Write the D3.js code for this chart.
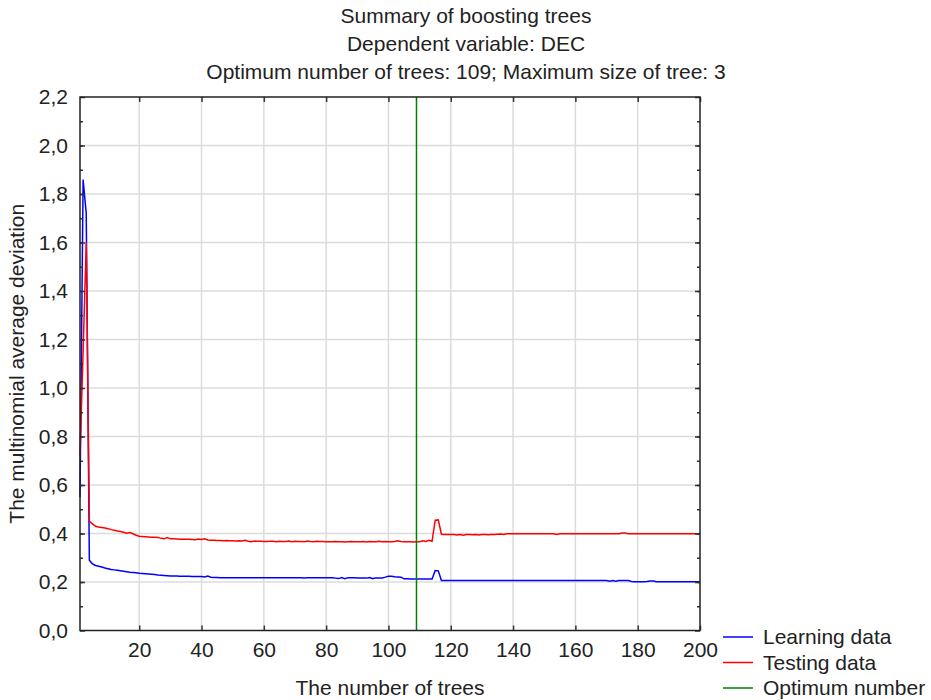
<!DOCTYPE html>
<meta charset="utf-8">
<style>
body { margin: 0; background: #fff; }
svg { font-family: "Liberation Sans", Arial, sans-serif; }
</style>
<svg width="931" height="700"></svg>
<script src="https://cdn.jsdelivr.net/npm/d3@7"></script>
<script>
// chart text
var titleLines = [
  "Summary of boosting trees",
  "Dependent variable: DEC",
  "Optimum number of trees: 109; Maximum size of tree: 3"
]
var xLabel = "The number of trees"
var yLabel = "The multinomial average deviation"
var xTicks = [20, 40, 60, 80, 100, 120, 140, 160, 180, 200]
var yTicks = [0, 0.2, 0.4, 0.6, 0.8, 1.0, 1.2, 1.4, 1.6, 1.8, 2.0, 2.2]
var optimumTrees = 109

// values per tree, 1..200
var learning = [
  0.55,1.86,1.72,0.29,0.275,0.268,0.265,0.262,0.258,0.255,
  0.252,0.25,0.248,0.246,0.244,0.242,0.24,0.239,0.238,0.236,
  0.235,0.234,0.233,0.232,0.231,0.229,0.228,0.227,0.226,0.225,
  0.225,0.225,0.224,0.224,0.224,0.224,0.223,0.223,0.223,0.223,
  0.221,0.225,0.22,0.219,0.219,0.218,0.218,0.218,0.218,0.218,
  0.218,0.218,0.218,0.218,0.218,0.218,0.218,0.218,0.218,0.218,
  0.218,0.218,0.218,0.218,0.218,0.218,0.218,0.218,0.218,0.218,
  0.218,0.218,0.217,0.218,0.218,0.218,0.218,0.218,0.218,0.218,
  0.218,0.218,0.216,0.214,0.218,0.214,0.218,0.218,0.218,0.217,
  0.216,0.216,0.216,0.218,0.214,0.217,0.217,0.217,0.22,0.224,
  0.224,0.222,0.221,0.22,0.213,0.213,0.212,0.212,0.212,0.212,
  0.212,0.212,0.212,0.212,0.247,0.246,0.206,0.206,0.206,0.206,
  0.206,0.206,0.206,0.206,0.206,0.206,0.206,0.206,0.206,0.206,
  0.206,0.206,0.206,0.206,0.206,0.206,0.206,0.206,0.206,0.206,
  0.206,0.206,0.206,0.206,0.206,0.206,0.206,0.206,0.206,0.206,
  0.206,0.206,0.206,0.206,0.206,0.206,0.206,0.206,0.206,0.206,
  0.206,0.206,0.206,0.206,0.206,0.206,0.206,0.206,0.206,0.206,
  0.203,0.206,0.203,0.206,0.206,0.206,0.206,0.202,0.201,0.201,
  0.201,0.201,0.202,0.204,0.204,0.201,0.201,0.201,0.201,0.201,
  0.201,0.201,0.201,0.201,0.201,0.201,0.201,0.201,0.201,0.201
]
var testing = [
  0.72,1.15,1.6,0.45,0.44,0.43,0.427,0.425,0.423,0.42,
  0.416,0.413,0.41,0.408,0.405,0.401,0.404,0.399,0.393,0.389,
  0.388,0.387,0.386,0.385,0.385,0.384,0.38,0.378,0.383,0.378,
  0.378,0.377,0.376,0.376,0.376,0.376,0.375,0.374,0.377,0.375,
  0.378,0.373,0.372,0.372,0.371,0.371,0.37,0.371,0.37,0.37,
  0.369,0.37,0.369,0.372,0.368,0.366,0.369,0.368,0.368,0.367,
  0.367,0.368,0.368,0.366,0.368,0.367,0.367,0.369,0.366,0.368,
  0.367,0.367,0.366,0.369,0.367,0.366,0.368,0.367,0.367,0.366,
  0.366,0.366,0.367,0.366,0.366,0.365,0.366,0.367,0.366,0.366,
  0.366,0.367,0.365,0.367,0.366,0.366,0.368,0.366,0.367,0.366,
  0.366,0.367,0.37,0.367,0.366,0.366,0.366,0.365,0.366,0.366,
  0.37,0.367,0.372,0.368,0.455,0.456,0.397,0.396,0.396,0.396,
  0.396,0.394,0.396,0.393,0.396,0.396,0.395,0.396,0.394,0.396,
  0.396,0.395,0.396,0.396,0.397,0.398,0.396,0.399,0.399,0.399,
  0.399,0.399,0.399,0.399,0.399,0.399,0.399,0.399,0.399,0.399,
  0.399,0.399,0.399,0.396,0.399,0.399,0.399,0.399,0.399,0.399,
  0.399,0.399,0.399,0.399,0.399,0.399,0.399,0.399,0.399,0.399,
  0.399,0.399,0.399,0.399,0.402,0.402,0.399,0.399,0.399,0.399,
  0.399,0.399,0.399,0.399,0.399,0.399,0.399,0.399,0.399,0.399,
  0.399,0.399,0.399,0.399,0.399,0.399,0.399,0.399,0.399,0.399
]

var legendItems = [
  {label: "Learning data", color: "#0000ff"},
  {label: "Testing data", color: "#ff0000"},
  {label: "Optimum number", color: "#008000"}
]

// plot box ("top" is taken by window.top, so prefix)
var plotLeft = 80, plotRight = 700, plotTop = 97, plotBottom = 630.5
var fontSize = 21

var svg = d3.select("svg")

var x = d3.scaleLinear().domain([1, 200]).range([plotLeft, plotRight])
var y = d3.scaleLinear().domain([0, 2.2]).range([plotBottom, plotTop])

function comma(v) { return d3.format(".1f")(v).replace(".", ",") }

// grid
var grid = svg.append("g").attr("stroke", "#dcdcdc").attr("stroke-width", 1.5)
grid.selectAll(".gx")
  .data(xTicks.filter(function (d) { return d < 200 }))
  .enter().append("line")
    .attr("x1", x).attr("x2", x)
    .attr("y1", plotTop).attr("y2", plotBottom)
grid.selectAll(".gy")
  .data(yTicks.filter(function (d) { return d > 0 && d < 2.2 }))
  .enter().append("line")
    .attr("x1", plotLeft).attr("x2", plotRight)
    .attr("y1", y).attr("y2", y)

// series
var line = d3.line()
  .x(function (d, i) { return x(i + 1) })
  .y(function (d) { return y(d) })

svg.append("path").datum(learning)
  .attr("fill", "none").attr("stroke", "#0000ff").attr("stroke-width", 1.5)
  .attr("d", line)
svg.append("path").datum(testing)
  .attr("fill", "none").attr("stroke", "#ff0000").attr("stroke-width", 1.5)
  .attr("d", line)

svg.append("line")
  .attr("x1", x(optimumTrees)).attr("x2", x(optimumTrees))
  .attr("y1", plotTop).attr("y2", plotBottom)
  .attr("stroke", "#008000").attr("stroke-width", 1.5)

// axes (ticks inward, on all four sides)
var minor = d3.range(1, 22).map(function (i) { return i / 10 })
svg.append("g").attr("transform", "translate(" + plotLeft + ",0)")
  .call(d3.axisLeft(y).tickValues(minor).tickSize(-3).tickFormat(""))
svg.append("g").attr("transform", "translate(" + plotRight + ",0)")
  .call(d3.axisRight(y).tickValues(minor).tickSize(-3).tickFormat(""))
svg.append("g").attr("transform", "translate(" + plotLeft + ",0)")
  .call(d3.axisLeft(y).tickValues(yTicks).tickSize(-5).tickPadding(12).tickFormat(comma))
svg.append("g").attr("transform", "translate(" + plotRight + ",0)")
  .call(d3.axisRight(y).tickValues(yTicks).tickSize(-5).tickFormat(""))
svg.append("g").attr("transform", "translate(0," + plotBottom + ")")
  .call(d3.axisBottom(x).tickValues(xTicks).tickSize(-5).tickPadding(12).tickFormat(d3.format("d")))
svg.append("g").attr("transform", "translate(0," + plotTop + ")")
  .call(d3.axisTop(x).tickValues(xTicks).tickSize(-5).tickFormat(""))

svg.selectAll(".domain").remove()
svg.selectAll(".tick line").attr("stroke", "#333").attr("stroke-width", 1.5)
svg.selectAll(".tick text").attr("font-size", fontSize).attr("fill", "#222")
  .attr("font-family", "'Liberation Sans', Arial, sans-serif")

svg.append("rect")
  .attr("x", plotLeft).attr("y", plotTop)
  .attr("width", plotRight - plotLeft).attr("height", plotBottom - plotTop)
  .attr("fill", "none").attr("stroke", "#222").attr("stroke-width", 1.5)

// titles
svg.append("g").selectAll("text")
  .data(titleLines)
  .enter().append("text")
    .attr("x", 466)
    .attr("y", function (d, i) { return 23 + i * 28 })
    .attr("text-anchor", "middle")
    .attr("font-size", fontSize)
    .attr("fill", "#222")
    .text(function (d) { return d })

svg.append("text")
  .attr("x", (plotLeft + plotRight) / 2).attr("y", 695)
  .attr("text-anchor", "middle").attr("font-size", fontSize).attr("fill", "#222")
  .text(xLabel)
svg.append("text")
  .attr("transform", "translate(24," + ((plotTop + plotBottom) / 2) + ") rotate(-90)")
  .attr("text-anchor", "middle").attr("font-size", fontSize).attr("fill", "#222")
  .text(yLabel)

// legend
var legend = svg.append("g").attr("transform", "translate(723,637)")
var item = legend.selectAll("g")
  .data(legendItems)
  .enter().append("g")
    .attr("transform", function (d, i) { return "translate(0," + i * 25.5 + ")" })
item.append("line")
  .attr("x1", 0).attr("x2", 30)
  .attr("stroke", function (d) { return d.color }).attr("stroke-width", 1.5)
item.append("text")
  .attr("x", 40).attr("y", 7)
  .attr("font-size", fontSize).attr("fill", "#222")
  .text(function (d) { return d.label })
</script>
